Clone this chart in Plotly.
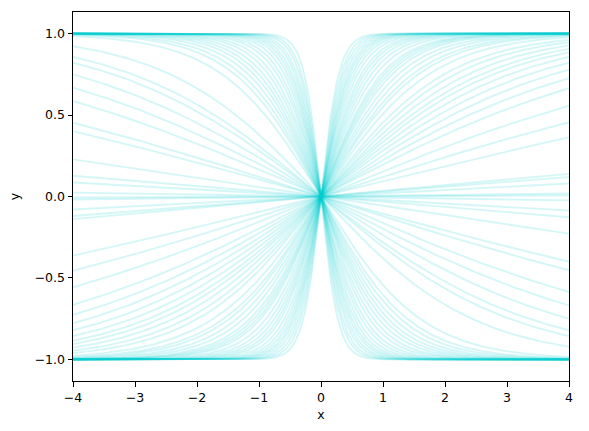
import numpy as np
import plotly.graph_objects as go

weights_pos = [3.4, 3.0, 2.7, 2.45, 2.25, 2.1, 1.95, 1.8, 1.65, 1.5, 1.4, 1.3, 1.2,
               1.1, 1.0, 0.95, 0.9, 0.85, 0.78, 0.72, 0.66, 0.62,
               0.56, 0.49, 0.45, 0.41, 0.376, 0.35, 0.32, 0.29, 0.26, 0.23, 0.20,
               0.157, 0.123, 0.095, 0.035, 0.03, 0.02, 0.0045, 0.0015]
weights_neg = [-3.6, -3.1, -2.8, -2.5, -2.3, -2.1, -1.95, -1.8, -1.65, -1.5, -1.38,
               -1.25, -1.15, -1.05, -0.97, -0.9, -0.83, -0.76, -0.7,
               -0.61, -0.40, -0.32, -0.29, -0.243, -0.202, -0.168, -0.122, -0.106,
               -0.058, -0.032, -0.0216, -0.006]

x_ticks = [-4, -3, -2, -1, 0, 1, 2, 3, 4]
y_ticks = [-1.0, -0.5, 0.0, 0.5, 1.0]

xs = np.linspace(-4, 4, 400)

fig = go.Figure()
for w in weights_pos + weights_neg:
    fig.add_trace(go.Scatter(
        x=xs, y=np.tanh(w * xs), mode="lines",
        line=dict(color="rgb(0,206,209)", width=1.9),
        opacity=0.16, showlegend=False, hoverinfo="skip"))

axis_common = dict(
    showgrid=False, zeroline=False, showline=True, linecolor="black", linewidth=1,
    mirror=True, ticks="outside", ticklen=4.5, tickwidth=1, tickcolor="black",
    tickfont=dict(family="DejaVu Sans", size=12.5, color="black"),
)
fig.update_xaxes(range=[-4, 4], tickvals=x_ticks, ticktext=[f"{v}".replace("-", "\u2212") for v in x_ticks],
                 title=dict(text="x", font=dict(family="DejaVu Sans", size=12.5, color="black"), standoff=6),
                 **axis_common)
fig.update_yaxes(range=[-1.132, 1.132], tickvals=y_ticks, ticktext=[f"{v:.1f}".replace("-", "\u2212") for v in y_ticks],
                 title=dict(text="y", font=dict(family="DejaVu Sans", size=12.5, color="black"), standoff=12),
                 **axis_common)
fig.update_layout(
    width=589, height=431,
    margin=dict(l=73, r=20, t=12, b=50),
    paper_bgcolor="white", plot_bgcolor="white",
    font=dict(family="DejaVu Sans", color="black"),
)
fig.write_html("out.html", config={"displayModeBar": False},
               post_script="document.body.style.margin='0';document.body.style.overflow='hidden';")
